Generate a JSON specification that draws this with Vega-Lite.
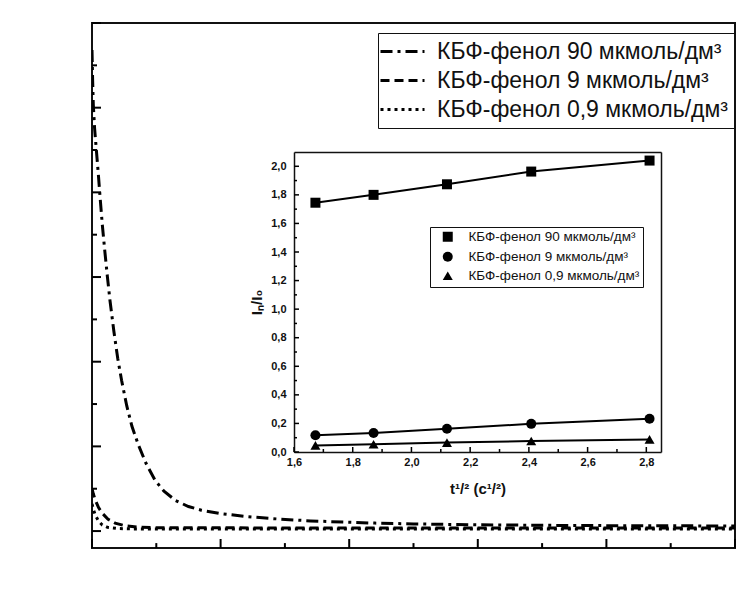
{
  "$schema": "https://vega.github.io/schema/vega-lite/v6.json",
  "width": 643,
  "height": 525,
  "autosize": {"type": "none"},
  "padding": {"left": 92, "top": 23, "right": 16, "bottom": 64},
  "background": "white",
  "config": {
    "view": {"stroke": "#111", "strokeWidth": 2},
    "font": "Liberation Sans"
  },
  "datasets": {
    "decay": [
      {"t": 0, "I": 284, "series": "90"},
      {"t": 0.05, "I": 266, "series": "90"},
      {"t": 0.1, "I": 252, "series": "90"},
      {"t": 0.2, "I": 238, "series": "90"},
      {"t": 0.36, "I": 223, "series": "90"},
      {"t": 0.5, "I": 210, "series": "90"},
      {"t": 0.62, "I": 198, "series": "90"},
      {"t": 0.8, "I": 181, "series": "90"},
      {"t": 1.0, "I": 165, "series": "90"},
      {"t": 1.2, "I": 150, "series": "90"},
      {"t": 1.4, "I": 136, "series": "90"},
      {"t": 1.7, "I": 118, "series": "90"},
      {"t": 2.0, "I": 102, "series": "90"},
      {"t": 2.3, "I": 89, "series": "90"},
      {"t": 2.7, "I": 74, "series": "90"},
      {"t": 3.1, "I": 62, "series": "90"},
      {"t": 3.6, "I": 51, "series": "90"},
      {"t": 4.2, "I": 40, "series": "90"},
      {"t": 4.9, "I": 30, "series": "90"},
      {"t": 5.6, "I": 23.5, "series": "90"},
      {"t": 6.5, "I": 18, "series": "90"},
      {"t": 7.5, "I": 14.5, "series": "90"},
      {"t": 8.5, "I": 12.3, "series": "90"},
      {"t": 10, "I": 10.3, "series": "90"},
      {"t": 12, "I": 8.6, "series": "90"},
      {"t": 14.5, "I": 7.1, "series": "90"},
      {"t": 17, "I": 6.0, "series": "90"},
      {"t": 19.5, "I": 5.3, "series": "90"},
      {"t": 22, "I": 4.7, "series": "90"},
      {"t": 25, "I": 4.2, "series": "90"},
      {"t": 30, "I": 3.7, "series": "90"},
      {"t": 35, "I": 3.4, "series": "90"},
      {"t": 40, "I": 3.2, "series": "90"},
      {"t": 45, "I": 3.1, "series": "90"},
      {"t": 50, "I": 3.0, "series": "90"},
      {"t": 0, "I": 25, "series": "9"},
      {"t": 0.1, "I": 22, "series": "9"},
      {"t": 0.25, "I": 18.5, "series": "9"},
      {"t": 0.5, "I": 14, "series": "9"},
      {"t": 0.8, "I": 10.5, "series": "9"},
      {"t": 1.25, "I": 7, "series": "9"},
      {"t": 1.8, "I": 4.7, "series": "9"},
      {"t": 2.6, "I": 3.1, "series": "9"},
      {"t": 3.5, "I": 2.4, "series": "9"},
      {"t": 5, "I": 2.0, "series": "9"},
      {"t": 10, "I": 1.9, "series": "9"},
      {"t": 20, "I": 1.8, "series": "9"},
      {"t": 35, "I": 1.8, "series": "9"},
      {"t": 50, "I": 1.8, "series": "9"},
      {"t": 0, "I": 16, "series": "0,9"},
      {"t": 0.1, "I": 13, "series": "0,9"},
      {"t": 0.25, "I": 9.5, "series": "0,9"},
      {"t": 0.5, "I": 6, "series": "0,9"},
      {"t": 0.8, "I": 3.6, "series": "0,9"},
      {"t": 1.2, "I": 2.2, "series": "0,9"},
      {"t": 2, "I": 1.5, "series": "0,9"},
      {"t": 3, "I": 1.3, "series": "0,9"},
      {"t": 6, "I": 1.2, "series": "0,9"},
      {"t": 20, "I": 1.2, "series": "0,9"},
      {"t": 50, "I": 1.2, "series": "0,9"}
    ],
    "inset": [
      {"x": 1.673, "y": 1.745, "sample": "КБФ-фенол 90 мкмоль/дм³"},
      {"x": 1.871, "y": 1.80, "sample": "КБФ-фенол 90 мкмоль/дм³"},
      {"x": 2.121, "y": 1.874, "sample": "КБФ-фенол 90 мкмоль/дм³"},
      {"x": 2.408, "y": 1.963, "sample": "КБФ-фенол 90 мкмоль/дм³"},
      {"x": 2.811, "y": 2.04, "sample": "КБФ-фенол 90 мкмоль/дм³"},
      {"x": 1.673, "y": 0.117, "sample": "КБФ-фенол 9 мкмоль/дм³"},
      {"x": 1.871, "y": 0.133, "sample": "КБФ-фенол 9 мкмоль/дм³"},
      {"x": 2.121, "y": 0.163, "sample": "КБФ-фенол 9 мкмоль/дм³"},
      {"x": 2.408, "y": 0.197, "sample": "КБФ-фенол 9 мкмоль/дм³"},
      {"x": 2.811, "y": 0.233, "sample": "КБФ-фенол 9 мкмоль/дм³"},
      {"x": 1.673, "y": 0.046, "sample": "КБФ-фенол 0,9 мкмоль/дм³"},
      {"x": 1.871, "y": 0.054, "sample": "КБФ-фенол 0,9 мкмоль/дм³"},
      {"x": 2.121, "y": 0.066, "sample": "КБФ-фенол 0,9 мкмоль/дм³"},
      {"x": 2.408, "y": 0.077, "sample": "КБФ-фенол 0,9 мкмоль/дм³"},
      {"x": 2.811, "y": 0.088, "sample": "КБФ-фенол 0,9 мкмоль/дм³"}
    ],
    "xMajor": [{"t": 0}, {"t": 10}, {"t": 20}, {"t": 30}, {"t": 40}, {"t": 50}],
    "xMinor": [{"t": 5}, {"t": 15}, {"t": 25}, {"t": 35}, {"t": 45}],
    "yMajor": [{"I": 0}, {"I": 50}, {"I": 100}, {"I": 150}, {"I": 200}, {"I": 250}, {"I": 300}],
    "yMinor": [{"I": 25}, {"I": 75}, {"I": 125}, {"I": 175}, {"I": 225}, {"I": 275}],
    "ixMajor": [{"x": 1.6}, {"x": 1.8}, {"x": 2.0}, {"x": 2.2}, {"x": 2.4}, {"x": 2.6}, {"x": 2.8}],
    "ixMinor": [{"x": 1.7}, {"x": 1.9}, {"x": 2.1}, {"x": 2.3}, {"x": 2.5}, {"x": 2.7}],
    "iyMajor": [{"y": 0}, {"y": 0.2}, {"y": 0.4}, {"y": 0.6}, {"y": 0.8}, {"y": 1.0}, {"y": 1.2}, {"y": 1.4}, {"y": 1.6}, {"y": 1.8}, {"y": 2.0}],
    "iyMinor": [{"y": 0.1}, {"y": 0.3}, {"y": 0.5}, {"y": 0.7}, {"y": 0.9}, {"y": 1.1}, {"y": 1.3}, {"y": 1.5}, {"y": 1.7}, {"y": 1.9}]
  },
  "layer": [
    {
      "layer": [
        {
          "data": {"name": "decay"},
          "mark": {"type": "line", "strokeWidth": 3, "color": "black", "clip": true},
          "encoding": {
            "x": {
              "field": "t", "type": "quantitative",
              "scale": {"domain": [0, 50], "nice": false, "zero": false},
              "axis": {
                "orient": "bottom", "title": "t (c)",
                "values": [0, 10, 20, 30, 40, 50], "grid": false,
                "ticks": false, "tickSize": 0, "domain": false,
                "labelFontSize": 19, "labelPadding": 5, "labelFlush": false, "labelOverlap": false, "labelColor": "#111",
                "titleFontSize": 21, "titleFontWeight": "normal", "titlePadding": 8, "titleColor": "#111"
              }
            },
            "y": {
              "field": "I", "type": "quantitative",
              "scale": {"domain": [-10, 300], "nice": false, "zero": false},
              "axis": {
                "orient": "left", "title": "I (мкА)",
                "values": [0, 50, 100, 150, 200, 250, 300], "grid": false,
                "ticks": false, "tickSize": 0, "domain": false,
                "labelFontSize": 19, "labelPadding": 14, "labelFlush": false, "labelOverlap": false, "labelColor": "#111",
                "titleFontSize": 21, "titleFontWeight": "normal", "titlePadding": 8, "titleColor": "#111"
              }
            },
            "strokeDash": {
              "field": "series", "type": "nominal",
              "scale": {"domain": ["90", "9", "0,9"], "range": [[12, 5, 3, 5], [9, 5], [3, 4]]},
              "legend": {
                "orient": "none", "legendX": 286, "legendY": 10,
                "title": null,
                "labelExpr": "'КБФ-фенол ' + datum.label + ' мкмоль/дм³'",
                "strokeColor": "#111", "padding": 6,
                "symbolType": "M-2,0H2", "symbolSize": 484, "symbolStrokeWidth": 3, "symbolStrokeColor": "black",
                "symbolOffset": 6,
                "labelFontSize": 23, "labelColor": "#111", "labelOffset": 22, "labelLimit": 500,
                "rowPadding": 4
              }
            }
          }
        },
        {
          "data": {"name": "xMajor"},
          "mark": {"type": "rule", "strokeWidth": 2, "color": "black"},
          "encoding": {
            "x": {"field": "t", "type": "quantitative", "axis": null},
            "y": {"datum": -10, "type": "quantitative", "axis": null},
            "y2": {"datum": -4.7}
          }
        },
        {
          "data": {"name": "xMinor"},
          "mark": {"type": "rule", "strokeWidth": 2, "color": "black"},
          "encoding": {
            "x": {"field": "t", "type": "quantitative", "axis": null},
            "y": {"datum": -10, "type": "quantitative", "axis": null},
            "y2": {"datum": -7.1}
          }
        },
        {
          "data": {"name": "yMajor"},
          "mark": {"type": "rule", "strokeWidth": 2, "color": "black"},
          "encoding": {
            "y": {"field": "I", "type": "quantitative", "axis": null},
            "x": {"datum": 0, "type": "quantitative", "axis": null},
            "x2": {"datum": 0.7}
          }
        },
        {
          "data": {"name": "yMinor"},
          "mark": {"type": "rule", "strokeWidth": 2, "color": "black"},
          "encoding": {
            "y": {"field": "I", "type": "quantitative", "axis": null},
            "x": {"datum": 0, "type": "quantitative", "axis": null},
            "x2": {"datum": 0.39}
          }
        }
      ]
    },
    {
      "layer": [
        {
          "data": {"name": "inset"},
          "mark": {"type": "line", "strokeWidth": 2, "color": "black"},
          "encoding": {
            "x": {
              "field": "x", "type": "quantitative",
              "scale": {"domain": [1.6, 2.85], "range": [202, 569], "nice": false, "zero": false},
              "axis": {
                "orient": "bottom", "offset": -96, "title": "t¹/² (c¹/²)", "grid": false,
                "values": [1.6, 1.8, 2.0, 2.2, 2.4, 2.6, 2.8],
                "labelExpr": "replace(format(datum.value, '.1f'), '.', ',')",
                "ticks": false, "tickSize": 0, "domain": true, "domainWidth": 1.5, "domainColor": "#111",
                "labelFontSize": 11, "labelFontWeight": "bold", "labelPadding": 4, "labelFlush": false, "labelOverlap": false, "labelColor": "#111",
                "titleFontSize": 15, "titleFontWeight": "bold", "titlePadding": 14, "titleColor": "#111"
              }
            },
            "y": {
              "field": "y", "type": "quantitative",
              "scale": {"domain": [0, 2.1], "range": [429, 129], "nice": false, "zero": false},
              "axis": {
                "orient": "left", "offset": -202, "title": "Iₙ/I₀", "grid": false,
                "values": [0, 0.2, 0.4, 0.6, 0.8, 1.0, 1.2, 1.4, 1.6, 1.8, 2.0],
                "labelExpr": "replace(format(datum.value, '.1f'), '.', ',')",
                "ticks": false, "tickSize": 0, "domain": true, "domainWidth": 1.5, "domainColor": "#111",
                "labelFontSize": 11, "labelFontWeight": "bold", "labelPadding": 8, "labelFlush": false, "labelOverlap": false, "labelColor": "#111",
                "titleFontSize": 15, "titleFontWeight": "bold", "titlePadding": 6, "titleColor": "#111"
              }
            },
            "detail": {"field": "sample", "type": "nominal"}
          }
        },
        {
          "data": {"name": "inset"},
          "mark": {"type": "point", "filled": true, "color": "black", "opacity": 1},
          "encoding": {
            "x": {
              "field": "x", "type": "quantitative",
              "axis": {"orient": "top", "offset": -129, "grid": false, "ticks": false, "labels": false, "title": null, "domain": true, "domainWidth": 1.5, "domainColor": "#111"}
            },
            "y": {
              "field": "y", "type": "quantitative",
              "axis": {"orient": "right", "offset": -74, "grid": false, "ticks": false, "labels": false, "title": null, "domain": true, "domainWidth": 1.5, "domainColor": "#111"}
            },
            "shape": {
              "field": "sample", "type": "nominal",
              "scale": {"domain": ["КБФ-фенол 90 мкмоль/дм³", "КБФ-фенол 9 мкмоль/дм³", "КБФ-фенол 0,9 мкмоль/дм³"], "range": ["square", "circle", "triangle-up"]},
              "legend": {
                "orient": "none", "legendX": 338, "legendY": 204,
                "title": null,
                "strokeColor": "#111", "padding": 3, "symbolOffset": 8,
                "symbolSize": 100, "symbolFillColor": "black", "symbolStrokeColor": "black",
                "labelFontSize": 13.5, "labelColor": "#111", "labelOffset": 14, "labelLimit": 400,
                "rowPadding": 3
              }
            },
            "size": {"value": 100}
          }
        },
        {
          "data": {"name": "ixMajor"},
          "mark": {"type": "rule", "strokeWidth": 1.5, "color": "black"},
          "encoding": {
            "x": {"field": "x", "type": "quantitative", "axis": null},
            "y": {"datum": 0, "type": "quantitative", "axis": null},
            "y2": {"datum": 0.035}
          }
        },
        {
          "data": {"name": "ixMinor"},
          "mark": {"type": "rule", "strokeWidth": 1.5, "color": "black"},
          "encoding": {
            "x": {"field": "x", "type": "quantitative", "axis": null},
            "y": {"datum": 0, "type": "quantitative", "axis": null},
            "y2": {"datum": 0.021}
          }
        },
        {
          "data": {"name": "iyMajor"},
          "mark": {"type": "rule", "strokeWidth": 1.5, "color": "black"},
          "encoding": {
            "y": {"field": "y", "type": "quantitative", "axis": null},
            "x": {"datum": 1.6, "type": "quantitative", "axis": null},
            "x2": {"datum": 1.617}
          }
        },
        {
          "data": {"name": "iyMinor"},
          "mark": {"type": "rule", "strokeWidth": 1.5, "color": "black"},
          "encoding": {
            "y": {"field": "y", "type": "quantitative", "axis": null},
            "x": {"datum": 1.6, "type": "quantitative", "axis": null},
            "x2": {"datum": 1.6102}
          }
        }
      ],
      "resolve": {"axis": {"x": "independent", "y": "independent"}}
    }
  ],
  "resolve": {
    "scale": {"x": "independent", "y": "independent"},
    "axis": {"x": "independent", "y": "independent"}
  }
}
